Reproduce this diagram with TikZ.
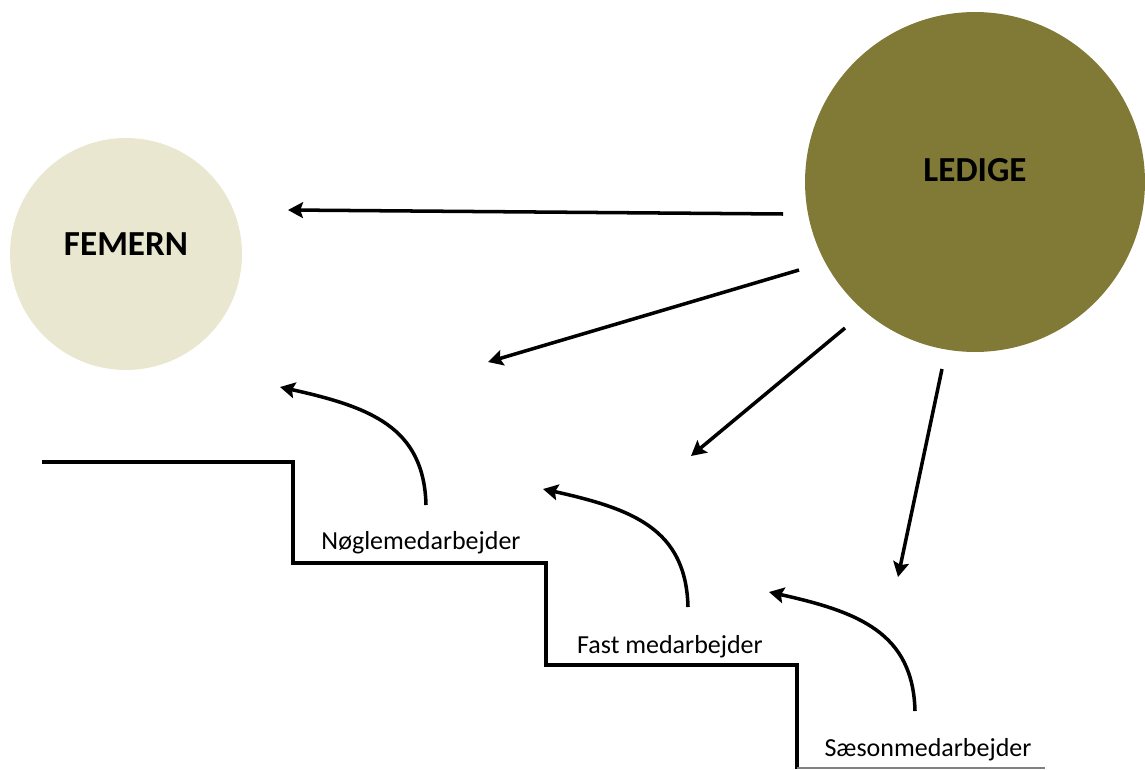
\documentclass[tikz,border=0pt]{standalone}
\usepackage{fontspec}
\setmainfont{Carlito}
\usetikzlibrary{arrows.meta}
\definecolor{femern-beige}{RGB}{233,231,208}
\definecolor{ledige-olive}{RGB}{128,122,54}
\tikzset{
    big-circle/.style = {circle, inner sep=0pt, font=\fontsize{20}{24}\selectfont\bfseries},
    step-label/.style = {inner sep=0pt, font=\fontsize{14.8}{18}\selectfont},
    thick-arrow/.style = {-{Stealth[length=8.5pt, width=9pt, inset=1.5pt]}, line width=2pt},
    stair-line/.style = {line width=2.3pt},
}

\begin{document}
\begin{tikzpicture}[x=0.02cm, y=0.02cm]
\useasboundingbox (0,0) rectangle (1145,769);
\node [big-circle, fill=femern-beige, minimum size=4.64cm, text depth=0.4cm] (femern) at (126,515) {FEMERN};
\node [big-circle, fill=ledige-olive, minimum size=6.8cm, text depth=0.48cm] (ledige) at (975,587) {LEDIGE};
\node [step-label] (noegle) at (421,226) {Nøglemedarbejder};
\node [step-label] (fast) at (670,122) {Fast medarbejder};
\node [step-label] (saeson) at (928,19) {Sæsonmedarbejder};

\coordinate (ledige-1) at (783,555);
\coordinate (ledige-2) at (799,499);
\coordinate (ledige-3) at (845,441);
\coordinate (ledige-4) at (942,400);
\coordinate (femern-in) at (288,559);
\coordinate (noegle-in) at (488,407);
\coordinate (fast-in) at (691,313);
\coordinate (saeson-in) at (898,192);
\draw [thick-arrow] (ledige-1) -- (femern-in);
\draw [thick-arrow] (ledige-2) -- (noegle-in);
\draw [thick-arrow] (ledige-3) -- (fast-in);
\draw [thick-arrow] (ledige-4) -- (saeson-in);

\coordinate (noegle-up) at (426,264);
\coordinate (noegle-tip) at (280,382);
\coordinate (fast-up) at (688,162);
\coordinate (fast-tip) at (543,280);
\coordinate (saeson-up) at (915,58);
\coordinate (saeson-tip) at (769,177);
\draw [thick-arrow] (noegle-up) .. controls +(-2,78) and +(90,-20) .. (noegle-tip);
\draw [thick-arrow] (fast-up) .. controls +(-2,78) and +(90,-20) .. (fast-tip);
\draw [thick-arrow] (saeson-up) .. controls +(-2,78) and +(90,-20) .. (saeson-tip);

\draw [stair-line] (42,307) -| (293,206) -| (546,104) -| (797,0);
\draw [gray, line width=0.6pt] (797,1) -- (1045,1);
\end{tikzpicture}
\end{document}
